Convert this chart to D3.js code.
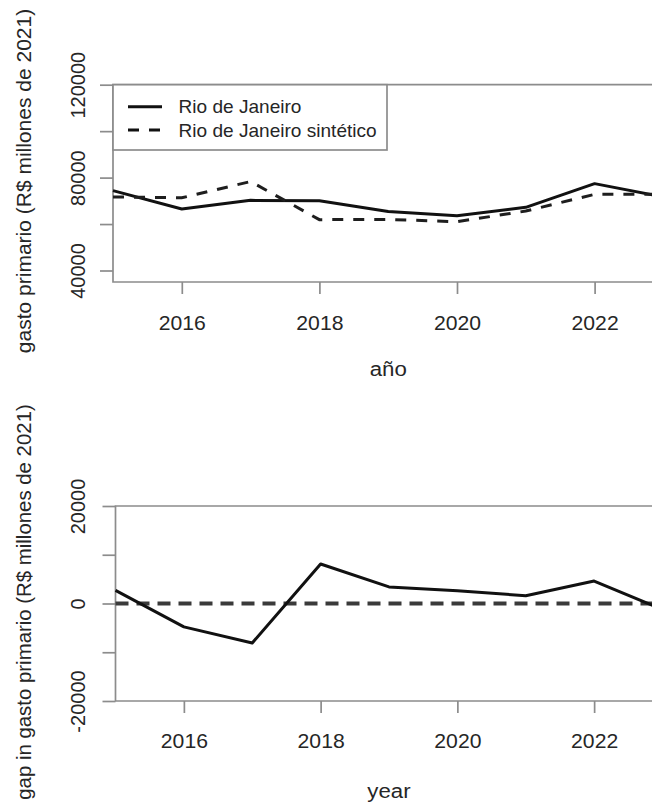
<!DOCTYPE html>
<html>
<head>
<meta charset="utf-8">
<script src="https://cdn.jsdelivr.net/npm/d3@7"></script>
<style>
  body { margin: 0; background: #fff; }
  svg { display: block; }
  text { font-family: "Liberation Sans", Arial, sans-serif; fill: #262626; }
</style>
</head>
<body>
<svg id="chart" width="652" height="805"></svg>
<script>
// Primary spending, Rio de Janeiro vs. its synthetic control (R$ millions of 2021)
const years = [2015, 2016, 2017, 2018, 2019, 2020, 2021, 2022, 2023];
const rioDeJaneiro = [74400, 66500, 70200, 70000, 65400, 63600, 67200, 77400, 71700];
const rioSintetico = [71700, 71300, 78300, 61900, 62000, 61000, 65600, 72800, 72900];
const gapValues = [2700, -4800, -8100, 8100, 3400, 2600, 1600, 4600, -1200];

const seriesNames = ["Rio de Janeiro", "Rio de Janeiro sintético"];
const xTicks = [2016, 2018, 2020, 2022];
const topYTicks = [40000, 60000, 80000, 100000, 120000];
const topYLabels = [40000, 80000, 120000];
const gapYTicks = [-20000, -10000, 0, 10000, 20000];
const gapYLabels = [-20000, 0, 20000];

const svg = d3.select("#chart");
const AXIS = "#8c8c8c";
const INK = "#111";
const STRETCH = 1.06; // horizontal text is drawn slightly wide

function panel(opts) {
  const g = svg.append("g");
  const x = d3.scaleLinear().domain([2015, 2023]).range([opts.left, opts.right]);
  const y = d3.scaleLinear().domain(opts.yDomain).range(opts.yRange);

  // plot box (left, top, bottom edges; right edge lies past the page)
  g.append("path")
    .attr("d", `M${opts.right + 20},${opts.top}H${opts.left}V${opts.bottom}H${opts.right + 20}`)
    .attr("fill", "none").attr("stroke", AXIS).attr("stroke-width", 1.7);

  // x axis
  const xa = g.append("g").attr("transform", `translate(0,${opts.bottom})`)
    .call(d3.axisBottom(x).tickValues(xTicks).tickSize(12).tickFormat(d3.format("d")));
  xa.select(".domain").remove();
  xa.selectAll("line").attr("stroke", AXIS).attr("stroke-width", 1.7);
  xa.selectAll("text")
    .attr("y", opts.xLabelBase).attr("dy", null)
    .attr("transform", `scale(${STRETCH},1)`)
    .style("font-size", "20px").attr("fill", "#262626");

  // y axis
  const ya = g.append("g").attr("transform", `translate(${opts.left},0)`)
    .call(d3.axisLeft(y).tickValues(opts.yTicks).tickSize(13)
      .tickFormat(d => opts.yLabels.includes(d) ? String(d) : ""));
  ya.select(".domain").remove();
  ya.selectAll("line").attr("stroke", AXIS).attr("stroke-width", 1.7);
  ya.selectAll("text")
    .attr("transform", "rotate(-90)")
    .attr("x", 0).attr("y", -(opts.left - 85)).attr("dy", null)
    .attr("text-anchor", "middle")
    .style("font-size", "20px").attr("fill", "#262626");

  // axis titles
  g.append("text")
    .attr("transform", `translate(${(opts.left + opts.right) / 2},${opts.titleBase}) scale(${STRETCH},1)`)
    .attr("text-anchor", "middle").style("font-size", "21px")
    .text(opts.xTitle);
  g.append("text")
    .attr("transform", `translate(31,${opts.yTitleMid}) rotate(-90)`)
    .attr("text-anchor", "middle").style("font-size", opts.yTitleSize)
    .text(opts.yTitle);

  return { g, x, y };
}

// ---- top panel: observed vs synthetic ----
const spendPanel = panel({
  left: 113, right: 663.4, top: 84.7, bottom: 282,
  yDomain: [40000, 120000], yRange: [270.5, 84.7],
  yTicks: topYTicks, yLabels: topYLabels,
  xLabelBase: 48, titleBase: 376,
  yTitleMid: 181, yTitleSize: "21px",
  xTitle: "año", yTitle: "gasto primario (R$ millones de 2021)"
});

const lineSpend = d3.line().x((d, i) => spendPanel.x(years[i])).y(d => spendPanel.y(d));
spendPanel.g.append("path").datum(rioDeJaneiro)
  .attr("d", lineSpend).attr("fill", "none")
  .attr("stroke", INK).attr("stroke-width", 3).attr("stroke-linejoin", "round");
spendPanel.g.append("path").datum(rioSintetico)
  .attr("d", lineSpend).attr("fill", "none")
  .attr("stroke", "#1e1e1e").attr("stroke-width", 3).attr("stroke-dasharray", "11,10");

// legend
const lg = spendPanel.g.append("g");
lg.append("rect").attr("x", 113).attr("y", 84.7).attr("width", 274).attr("height", 65.3)
  .attr("fill", "#fff").attr("stroke", AXIS).attr("stroke-width", 1.7);
const legendDash = [null, "11,10"];
seriesNames.forEach((name, i) => {
  const cy = 106.7 + i * 23.3;
  lg.append("line").attr("x1", 128).attr("x2", 162).attr("y1", cy).attr("y2", cy)
    .attr("stroke", INK).attr("stroke-width", 3)
    .attr("stroke-dasharray", legendDash[i]);
  lg.append("text")
    .attr("transform", `translate(178.5,${cy + 6.5}) scale(${STRETCH},1)`)
    .style("font-size", "18px").text(name);
});

// ---- bottom panel: gap ----
const gapPanel = panel({
  left: 115.5, right: 662.5, top: 506, bottom: 701,
  yDomain: [-20000, 20000], yRange: [701, 506],
  yTicks: gapYTicks, yLabels: gapYLabels,
  xLabelBase: 47, titleBase: 798,
  yTitleMid: 602, yTitleSize: "20.4px",
  xTitle: "year", yTitle: "gap in gasto primario (R$ millones de 2021)"
});

gapPanel.g.append("line")
  .attr("x1", gapPanel.x(2015)).attr("x2", gapPanel.x(2023))
  .attr("y1", gapPanel.y(0)).attr("y2", gapPanel.y(0))
  .attr("stroke", "#3a3a3a").attr("stroke-width", 4).attr("stroke-dasharray", "13,8");

const lineGap = d3.line().x((d, i) => gapPanel.x(years[i])).y(d => gapPanel.y(d));
gapPanel.g.append("path").datum(gapValues)
  .attr("d", lineGap).attr("fill", "none")
  .attr("stroke", INK).attr("stroke-width", 3).attr("stroke-linejoin", "round");
</script>
</body>
</html>
